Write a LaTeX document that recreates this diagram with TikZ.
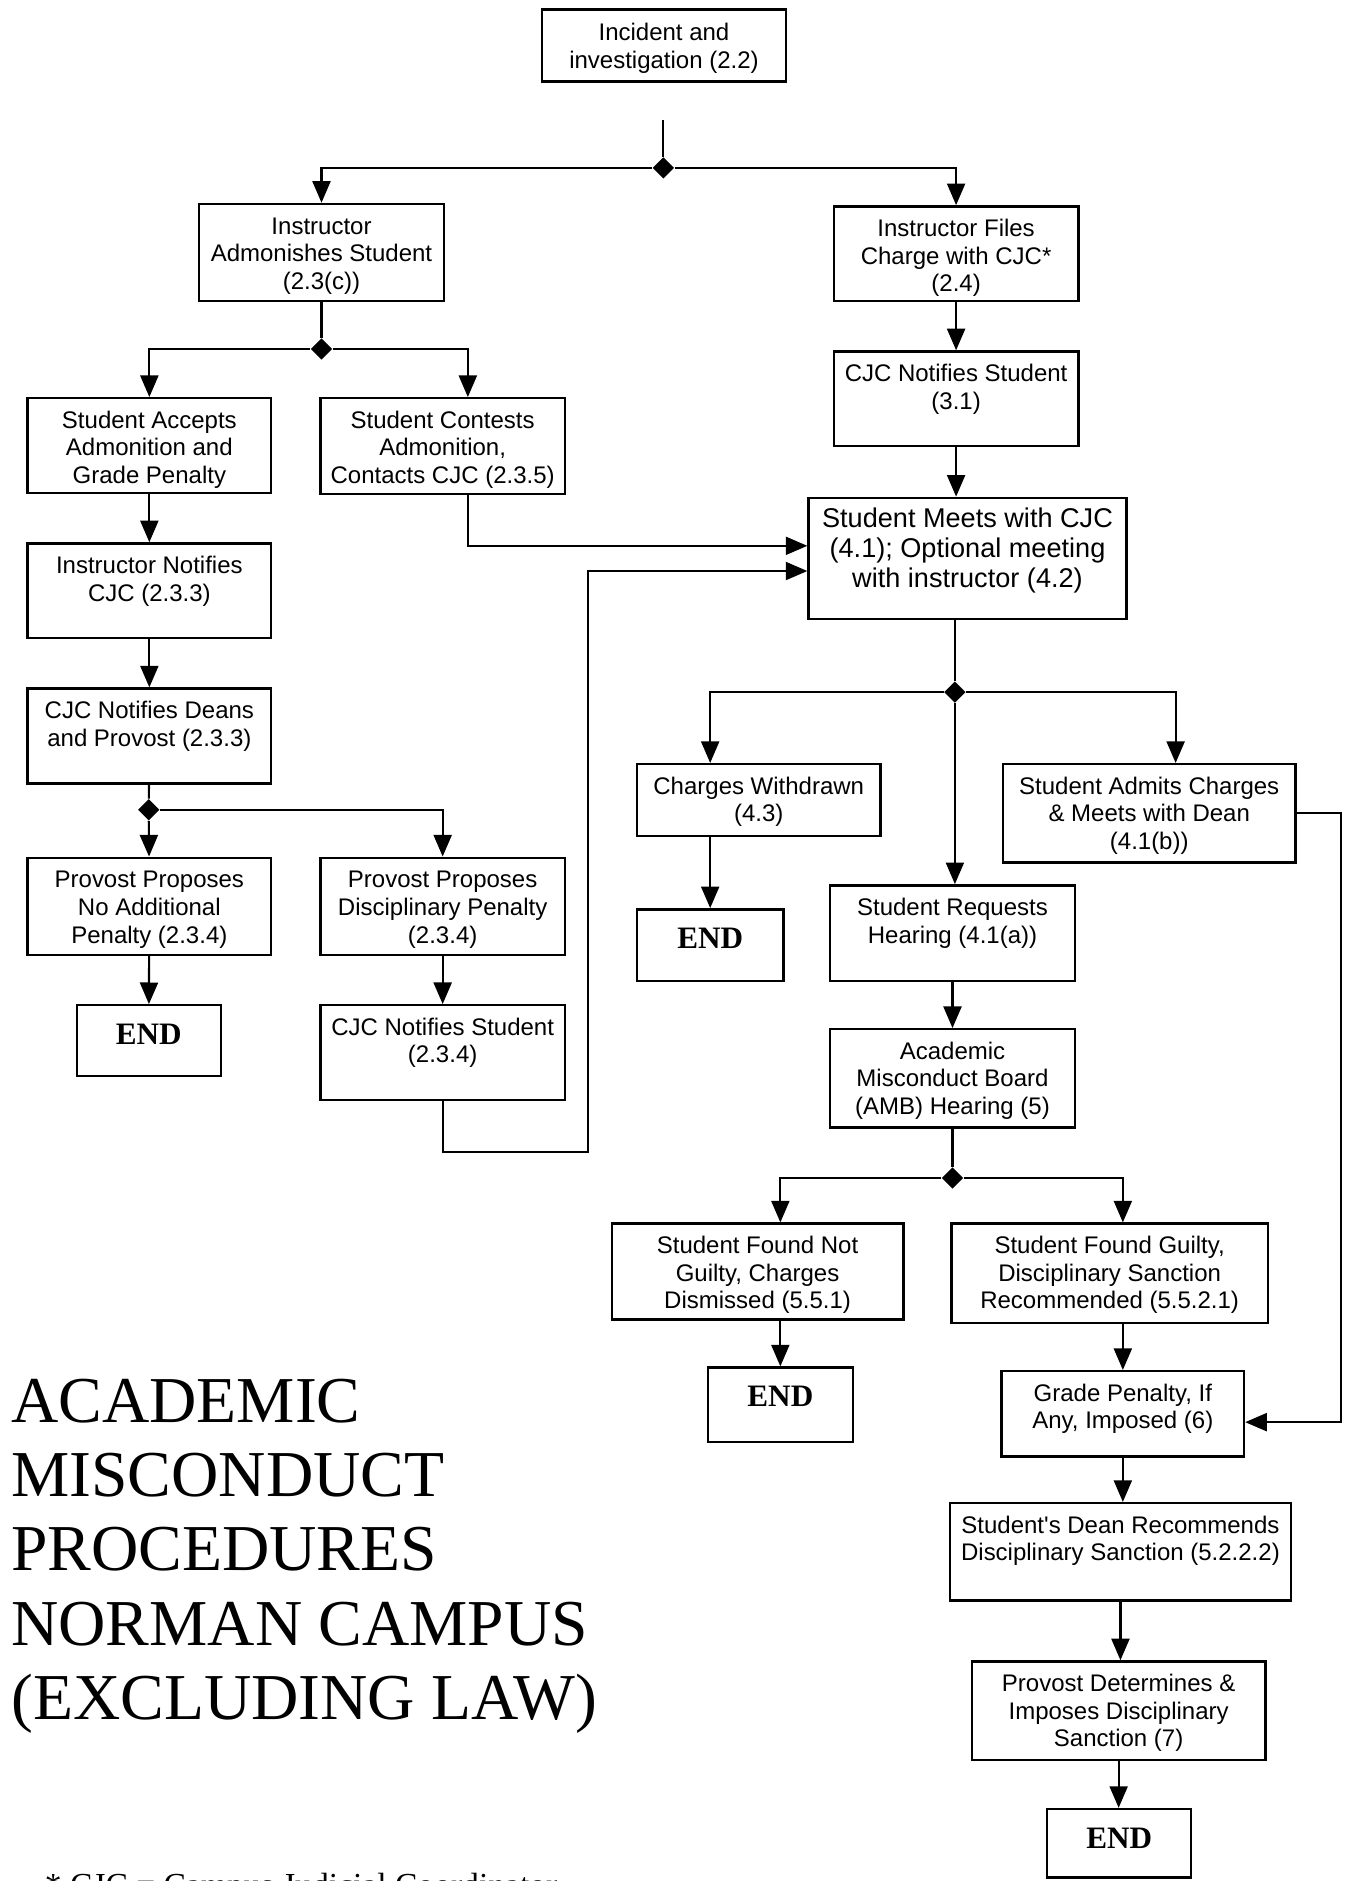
\documentclass[tikz,border=0pt]{standalone}
\usepackage{fontspec}
\setmainfont{Liberation Sans}
\newfontfamily\serifrm{Liberation Serif}
\usetikzlibrary{arrows.meta,shapes.geometric,calc}
\tikzset{
  boxst/.style={draw, line width=1pt, inner sep=0pt, font=\fontsize{10}{11.5}\selectfont},
  endst/.style={font=\serifrm\bfseries\fontsize{13}{15}\selectfont},
  jn/.style={diamond, fill=black, inner sep=0pt, minimum size=9pt},
  ln/.style={line width=0.9pt},
  arr/.style={line width=0.9pt, -{Triangle[length=9pt,width=7.5pt]}}
}
% \bxt[options]{name}{x1}{y1}{x2}{y2}{top pad}{text}
\newcommand\bxt[8][]{%
  \node[boxst,#1] (#2) at ({(#3+#5)/2},{(#4+#6)/2})
  {\parbox[c][\dimexpr(#6pt-#4pt)/2\relax][t]{\dimexpr(#5pt-#3pt)/2\relax}{\centering\vspace*{#7}\strut #8}};}
\begin{document}
\begin{tikzpicture}[x=0.5pt,y=-0.5pt]
\useasboundingbox (0,0) rectangle (1124,1568);
\fill[white] (0,0) rectangle (1124,1568);
\clip (0,0) rectangle (1124,1568);

% boxes
\bxt{inc}{452}{8}{655}{68}{5pt}{Incident and\\investigation (2.2)}
\bxt{adm}{166}{170}{370}{251}{4.5pt}{Instructor\\Admonishes Student\\(2.3(c))}
\bxt{files}{695}{172}{899}{251}{4.5pt}{Instructor Files\\Charge with CJC*\\(2.4)}
\bxt{cjcn}{695}{293}{899}{372}{4.5pt}{CJC Notifies Student\\(3.1)}
\bxt[font=\fontsize{11.3}{12.5}\selectfont]{meets}{674}{415}{939}{516}{3.8pt}{Student Meets with CJC\\(4.1); Optional meeting\\with instructor (4.2)}
\bxt{acc}{23}{332}{226}{411}{4.5pt}{Student Accepts\\Admonition and\\Grade Penalty}
\bxt{cont}{267}{332}{471}{412}{4.5pt}{Student Contests\\Admonition,\\Contacts CJC (2.3.5)}
\bxt{notif}{23}{453}{226}{532}{4.5pt}{Instructor Notifies\\CJC (2.3.3)}
\bxt{deans}{23}{574}{226}{653}{4.5pt}{CJC Notifies Deans\\and Provost (2.3.3)}
\bxt{nopen}{23}{715}{226}{796}{4.5pt}{Provost Proposes\\No Additional\\Penalty (2.3.4)}
\bxt{disc}{267}{715}{471}{796}{4.5pt}{Provost Proposes\\Disciplinary Penalty\\(2.3.4)}
\bxt[endst]{end1}{64}{838}{184}{897}{5.8pt}{END}
\bxt{cjcs}{267}{838}{471}{917}{4.5pt}{CJC Notifies Student\\(2.3.4)}
\bxt{wd}{531}{637}{734}{697}{4.5pt}{Charges Withdrawn\\(4.3)}
\bxt[endst]{end2}{531}{758}{653}{818}{5.8pt}{END}
\bxt{admits}{836}{637}{1080}{719}{4.5pt}{Student Admits Charges\\\&\ Meets with Dean\\(4.1(b))}
\bxt{req}{692}{738}{896}{818}{4.5pt}{Student Requests\\Hearing (4.1(a))}
\bxt{amb}{692}{858}{896}{940}{4.5pt}{Academic\\Misconduct Board\\(AMB) Hearing (5)}
\bxt{ng}{510}{1020}{753}{1100}{4.5pt}{Student Found Not\\Guilty, Charges\\Dismissed (5.5.1)}
\bxt{g}{793}{1020}{1057}{1103}{4.5pt}{Student Found Guilty,\\Disciplinary Sanction\\Recommended (5.5.2.1)}
\bxt[endst]{end3}{590}{1140}{711}{1202}{5.8pt}{END}
\bxt{gp}{835}{1143}{1037}{1214}{4.5pt}{Grade Penalty, If\\Any, Imposed (6)}
\bxt{dean}{792}{1253}{1076}{1334}{4.5pt}{Student\textquotesingle s Dean Recommends\\Disciplinary Sanction (5.2.2.2)}
\bxt{prov}{810}{1385}{1055}{1467}{4.5pt}{Provost Determines \&\\Imposes Disciplinary\\Sanction (7)}
\bxt[endst]{end4}{873}{1508}{993}{1565}{5.8pt}{END}

% junctions
\node[jn] (j1) at (553,140) {};
\node[jn] (j2) at (268,291) {};
\node[jn] (j3) at (124,675) {};
\node[jn] (j4) at (796,577) {};
\node[jn] (j5) at (794,982) {};
\coordinate (c0) at (553,100);
\coordinate (k1) at (490,960);
\coordinate (k2) at (1118,1000);

% connectors
\draw[ln] (c0) -- (j1);
\draw[arr] (j1) -| (adm);
\draw[arr] (j1) -| (files);
\draw[arr] (files) -- (cjcn);
\draw[arr] (cjcn) -- (cjcn |- meets.north);
\draw[ln] (adm) -- (j2);
\draw[arr] (j2) -| (acc);
\draw[arr] (j2) -| ($(cont.north)+(21,0)$);
\draw[arr] (acc) -- (notif);
\draw[arr] (notif) -- (deans);
\draw[ln] (deans) -- (j3);
\draw[arr] (j3) -- (nopen);
\draw[arr] (j3) -| (disc);
\draw[arr] (nopen) -- (end1);
\draw[arr] (disc) -- (cjcs);
\draw[arr] ($(cont.south)+(21,0)$) |- ($(meets.west)+(0,-10.5)$);
\draw[arr] (cjcs.south) |- (k1) |- ($(meets.west)+(0,10.5)$);
\draw[ln] (j4 |- meets.south) -- (j4);
\draw[arr] (j4) -| (wd.north -| end2.north);
\draw[arr] (wd.south -| end2.north) -- (end2);
\draw[arr] (j4) -- (j4 |- req.north);
\draw[arr] (j4) -| ($(admits.north)+(22,0)$);
\draw[arr] (admits.east) -| (k2) |- ($(gp.east)+(0,7)$);
\draw[arr] (req) -- (amb);
\draw[ln] (amb) -- (j5);
\draw[arr] (j5) -| (ng.north -| end3.north);
\draw[arr] (ng.south -| end3.north) -- (end3);
\draw[arr] (j5) -| (g.north -| gp.north);
\draw[arr] (g.south -| gp.north) -- (gp);
\draw[arr] (gp) -- (gp.south |- dean.north);
\draw[arr] (dean.south) -- (dean.south |- prov.north);
\draw[arr] (prov.south) -- (prov.south |- end4.north);

% title and footnote
\node[anchor=north west, inner sep=0pt, align=left, font=\serifrm\fontsize{27.3}{31}\selectfont] (title) at (9,1149)
  {ACADEMIC\\MISCONDUCT\\PROCEDURES\\NORMAN CAMPUS\\(EXCLUDING LAW)};
\node[anchor=north west, inner sep=0pt, font=\serifrm\fontsize{14}{16}\selectfont] (fn) at (37,1561)
  {* CJC = Campus Judicial Coordinator};
\end{tikzpicture}
\end{document}
